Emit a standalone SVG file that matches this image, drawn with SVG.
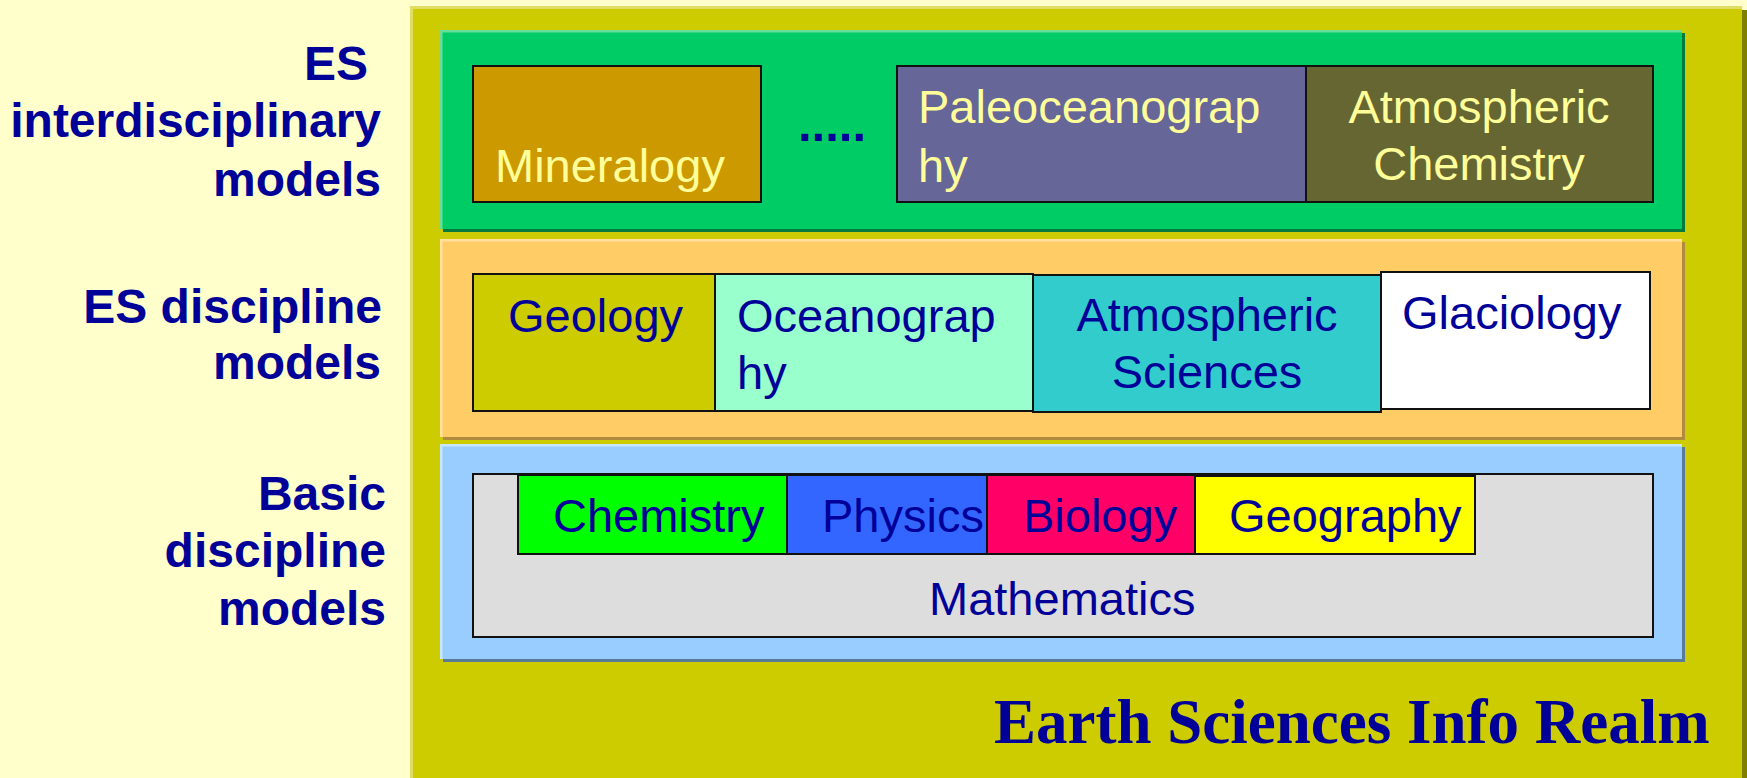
<svg xmlns="http://www.w3.org/2000/svg" width="1747" height="778" viewBox="0 0 1747 778">
<style>
.lbl{font-family:"Liberation Sans",Arial,sans-serif;font-weight:bold;font-size:48px;fill:#000099;text-anchor:end}
.t{font-family:"Liberation Sans",Arial,sans-serif;font-size:47px;fill:#000099}
.ty{font-family:"Liberation Sans",Arial,sans-serif;font-size:47px;fill:#ffff99}
.box{stroke:#111;stroke-width:2}
.title{font-family:"Liberation Serif","Times New Roman",serif;font-weight:bold;font-size:63px;fill:#000099}
</style>
<rect x="0" y="0" width="1747" height="778" fill="#ffffcc"/>
<g id="realm">
<rect x="414" y="10" width="1333" height="768" fill="#808000"/>
<rect x="410" y="6" width="1332" height="772" fill="#cccc00"/>
<rect x="410" y="6" width="1332" height="3" fill="#e0dc66"/>
<rect x="410" y="6" width="3" height="772" fill="#e0dc66"/>
<text class="title" x="994" y="743">Earth Sciences Info Realm</text>
</g>
<g id="labels">
<text class="lbl" x="368" y="80">ES</text>
<text class="lbl" x="381" y="137">interdisciplinary</text>
<text class="lbl" x="381" y="196">models</text>
<text class="lbl" x="382" y="323">ES discipline</text>
<text class="lbl" x="381" y="379">models</text>
<text class="lbl" x="386" y="510">Basic</text>
<text class="lbl" x="386" y="567">discipline</text>
<text class="lbl" x="386" y="625">models</text>
</g>
<g id="layer-interdisciplinary">
<rect x="443" y="33" width="1242" height="199" fill="#007a3d"/>
<rect x="440" y="30" width="1242" height="199" fill="#00cc66"/>
<rect x="440" y="30" width="1242" height="2.5" fill="#66dd99"/>
<rect x="440" y="30" width="2.5" height="199" fill="#66dd99"/>
</g>
<g id="mineralogy">
<rect class="box" x="473" y="66" width="288" height="136" fill="#cc9900"/>
<text class="ty" x="495" y="182">Mineralogy</text>
</g>
<g id="dots">
<text x="798" y="141" style="font-family:'Liberation Sans',Arial,sans-serif;font-weight:bold;font-size:49px;fill:#000099">.....</text>
</g>
<g id="paleoceanography">
<rect class="box" x="897" y="66" width="409" height="136" fill="#666699"/>
<text class="ty" x="918" y="123">Paleoceanograp</text>
<text class="ty" x="918" y="182">hy</text>
</g>
<g id="atmospheric-chemistry">
<rect class="box" x="1306" y="66" width="347" height="136" fill="#666633"/>
<text class="ty" x="1479" y="123" text-anchor="middle">Atmospheric</text>
<text class="ty" x="1479" y="180" text-anchor="middle">Chemistry</text>
</g>
<g id="layer-es-discipline">
<rect x="443" y="242" width="1242" height="198" fill="#b08a40"/>
<rect x="440" y="239" width="1242" height="198" fill="#ffcc66"/>
<rect x="440" y="239" width="1242" height="2.5" fill="#ffe0a0"/>
<rect x="440" y="239" width="2.5" height="198" fill="#ffe0a0"/>
</g>
<g id="geology">
<rect class="box" x="473" y="274" width="242" height="137" fill="#cccc00"/>
<text class="t" x="508" y="332">Geology</text>
</g>
<g id="oceanography">
<rect class="box" x="715" y="274" width="318" height="137" fill="#99ffcc"/>
<text class="t" x="737" y="332">Oceanograp</text>
<text class="t" x="737" y="389">hy</text>
</g>
<g id="atmospheric-sciences">
<rect class="box" x="1033" y="275" width="348" height="137" fill="#33cccc"/>
<text class="t" x="1207" y="331" text-anchor="middle">Atmospheric</text>
<text class="t" x="1207" y="388" text-anchor="middle">Sciences</text>
</g>
<g id="glaciology">
<rect class="box" x="1381" y="272" width="269" height="137" fill="#ffffff"/>
<text class="t" x="1402" y="329">Glaciology</text>
</g>
<g id="layer-basic">
<rect x="443" y="447" width="1242" height="215" fill="#5a7a9a"/>
<rect x="440" y="444" width="1242" height="215" fill="#99ccff"/>
<rect x="440" y="444" width="1242" height="2.5" fill="#c8e6ff"/>
<rect x="440" y="444" width="2.5" height="215" fill="#c8e6ff"/>
</g>
<g id="mathematics">
<rect class="box" x="473" y="474" width="1180" height="163" fill="#dddddd"/>
<text class="t" x="929" y="615">Mathematics</text>
</g>
<g id="chemistry">
<rect class="box" x="518" y="475" width="269" height="79" fill="#00ff00"/>
<text class="t" x="553" y="532">Chemistry</text>
</g>
<g id="physics">
<rect class="box" x="787" y="475" width="200" height="79" fill="#3366ff"/>
<text class="t" x="822" y="532">Physics</text>
</g>
<g id="biology">
<rect class="box" x="987" y="475" width="208" height="79" fill="#ff0066"/>
<text class="t" x="1023" y="532">Biology</text>
</g>
<g id="geography">
<rect class="box" x="1195" y="476" width="280" height="78" fill="#ffff00"/>
<text class="t" x="1229" y="532">Geography</text>
</g>
<g id="connectors"></g>
</svg>
